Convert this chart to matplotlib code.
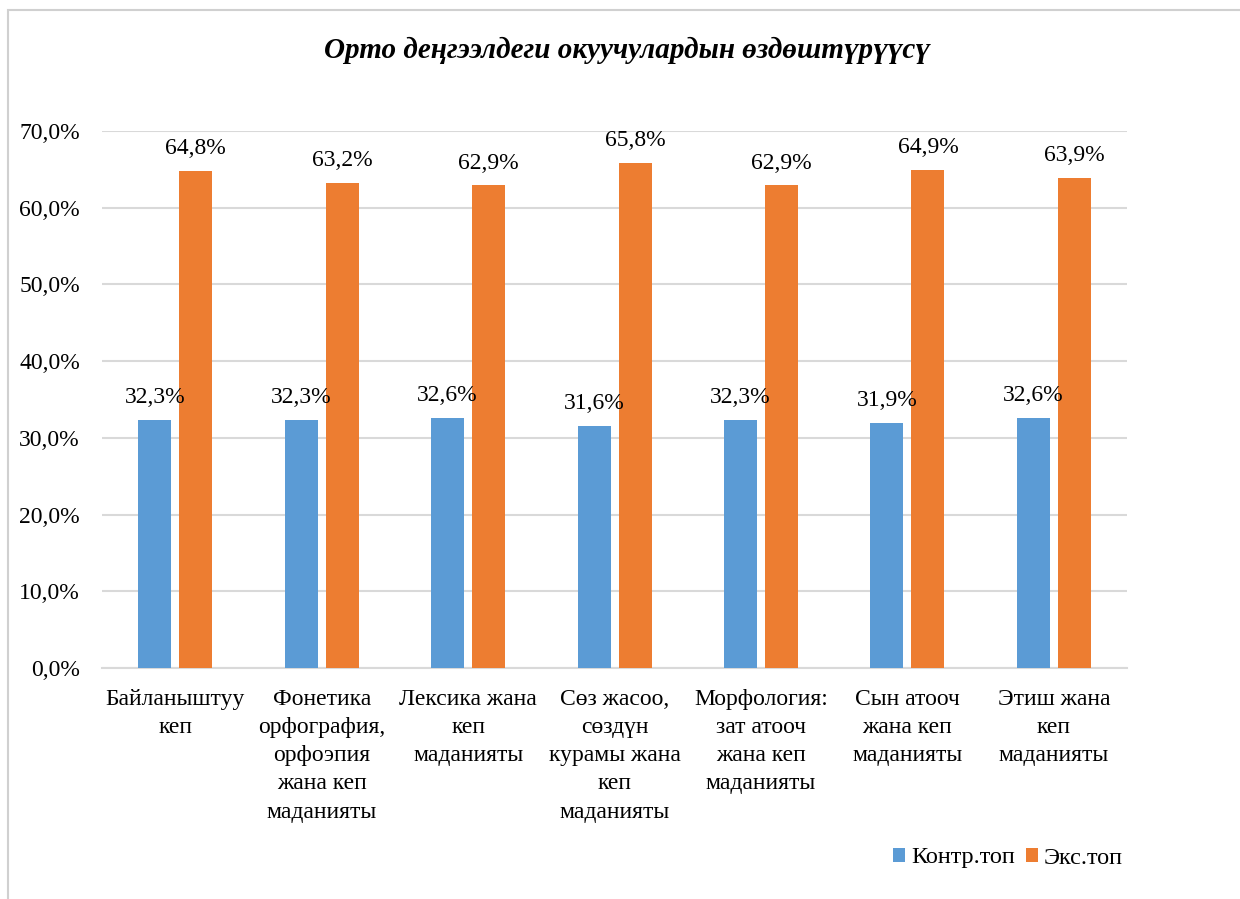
import matplotlib.pyplot as plt
import numpy as np
from matplotlib.patches import Rectangle
from matplotlib.ticker import FuncFormatter

categories = [
    "Байланыштуу\nкеп",
    "Фонетика\nорфография,\nорфоэпия\nжана кеп\nмаданияты",
    "Лексика жана\nкеп\nмаданияты",
    "Сөз жасоо,\nсөздүн\nкурамы жана\nкеп\nмаданияты",
    "Морфология:\nзат атооч\nжана кеп\nмаданияты",
    "Сын атооч\nжана кеп\nмаданияты",
    "Этиш жана\nкеп\nмаданияты",
]
control = [32.3, 32.3, 32.6, 31.6, 32.3, 31.9, 32.6]
experiment = [64.8, 63.2, 62.9, 65.8, 62.9, 64.9, 63.9]
series_names = ["Контр.топ", "Экс.топ"]
title = "Орто деңгээлдеги окуучулардын өздөштүрүүсү"

plt.rcParams["font.family"] = ["Liberation Serif", "DejaVu Serif"]

fig = plt.figure(figsize=(12.4, 8.99), dpi=100)
ax = fig.add_axes([0.0823, 0.2570, 0.8266, 0.5973])

# chart frame
fig.patches.append(Rectangle((8 / 1240, -0.1), 1.2, 1.1 - 10 / 899,
                             transform=fig.transFigure, fill=False,
                             edgecolor="#D0D0D0", linewidth=1.5))

x = np.arange(len(categories))
w = 0.225
b1 = ax.bar(x - 0.14, control, w, color="#5B9BD5", label=series_names[0], zorder=3)
b2 = ax.bar(x + 0.14, experiment, w, color="#ED7D31", label=series_names[1], zorder=3)

fmt = lambda v: f"{v:.1f}%".replace(".", ",")
ax.bar_label(b1, labels=[fmt(v) for v in control], padding=8.5, fontsize=17)
ax.bar_label(b2, labels=[fmt(v) for v in experiment], padding=8.5, fontsize=17)

ax.set_xlim(-0.5, len(categories) - 0.5)
ax.set_ylim(0, 70)
ax.set_yticks(np.arange(0, 71, 10))
ax.yaxis.set_major_formatter(FuncFormatter(lambda v, p: fmt(v)))
ax.set_xticks(x)
ax.set_xticklabels(categories, fontsize=17, linespacing=1.45, va="top")
ax.tick_params(axis="both", length=0, labelsize=17)
ax.tick_params(axis="x", pad=15)
ax.tick_params(axis="y", pad=16)

ax.grid(axis="y", color="#D9D9D9", linewidth=1.5, zorder=0)
for s in ["top", "right", "left"]:
    ax.spines[s].set_visible(False)
ax.spines["bottom"].set_color("#D9D9D9")
ax.spines["bottom"].set_linewidth(1.5)

fig.text(627 / 1240, 1 - 50 / 899, title, ha="center", va="center",
         fontsize=21, fontweight="bold", fontstyle="italic")

fig.legend(handles=[b1, b2], loc="center", bbox_to_anchor=(1008 / 1240, 1 - 858 / 899),
           ncol=2, frameon=False, fontsize=17.5, handlelength=0.5, handleheight=0.5,
           handletextpad=0.25, columnspacing=0.45, borderpad=0)

fig.savefig("out.png", dpi=100)
